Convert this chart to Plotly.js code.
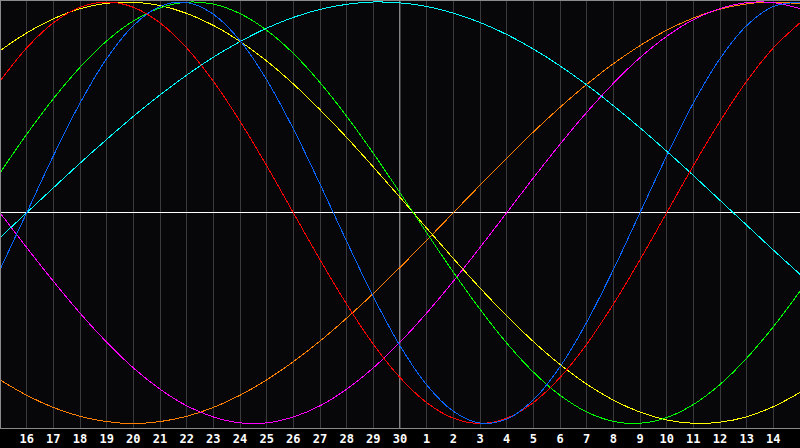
<!DOCTYPE html>
<html>
<head>
<meta charset="utf-8">
<script src="https://cdn.plot.ly/plotly-3.0.1.min.js"></script>
<style>
html,body{margin:0;padding:0;background:#000;}
#chart{width:800px;height:448px;}
#chart .scatterlayer path{shape-rendering:crispEdges;}
</style>
</head>
<body>
<div id="chart"></div>
<script>
// Day labels (15th of one month to 15th of the next)
const days = [15,16,17,18,19,20,21,22,23,24,25,26,27,28,29,30,1,2,3,4,5,6,7,8,9,10,11,12,13,14,15];

// Curve values (-1 .. 1), one per day
const blueVals = [-0.270, 0, 0.270, 0.520, 0.731, 0.888, 0.979, 0.998, 0.942, 0.817, 0.631, 0.398, 0.136, -0.136, -0.398, -0.631, -0.817, -0.942, -0.998, -0.979, -0.888, -0.731, -0.520, -0.270, 0, 0.270, 0.520, 0.731, 0.888, 0.979, 0.998];
const redVals = [0.624, 0.782, 0.901, 0.975, 1, 0.975, 0.901, 0.782, 0.624, 0.434, 0.223, 0, -0.223, -0.434, -0.624, -0.782, -0.901, -0.975, -1, -0.975, -0.901, -0.782, -0.624, -0.434, -0.223, 0, 0.223, 0.434, 0.624, 0.782, 0.901];
const greenVals = [0.189, 0.372, 0.541, 0.690, 0.815, 0.910, 0.972, 0.999, 0.990, 0.945, 0.866, 0.756, 0.618, 0.458, 0.282, 0.095, -0.095, -0.282, -0.458, -0.618, -0.756, -0.866, -0.945, -0.990, -0.999, -0.972, -0.910, -0.815, -0.690, -0.541, -0.372];
const yellowVals = [0.769, 0.853, 0.920, 0.968, 0.994, 0.999, 0.983, 0.946, 0.889, 0.813, 0.720, 0.611, 0.489, 0.357, 0.217, 0.073, -0.073, -0.217, -0.357, -0.489, -0.611, -0.720, -0.813, -0.889, -0.946, -0.983, -0.999, -0.994, -0.968, -0.920, -0.853];
const magentaVals = [0, -0.165, -0.325, -0.476, -0.614, -0.736, -0.837, -0.916, -0.969, -0.997, -0.997, -0.969, -0.916, -0.837, -0.736, -0.614, -0.476, -0.325, -0.165, 0, 0.165, 0.325, 0.476, 0.614, 0.736, 0.837, 0.916, 0.969, 0.997, 0.997, 0.969];
const orangeVals = [-0.793, -0.866, -0.924, -0.966, -0.991, -1, -0.991, -0.966, -0.924, -0.866, -0.793, -0.707, -0.609, -0.5, -0.383, -0.259, -0.131, 0, 0.131, 0.259, 0.383, 0.5, 0.609, 0.707, 0.793, 0.866, 0.924, 0.966, 0.991, 1, 0.991];
const cyanVals = [-0.118, 0, 0.118, 0.235, 0.348, 0.457, 0.559, 0.653, 0.738, 0.812, 0.876, 0.927, 0.965, 0.989, 1.000, 0.996, 0.979, 0.947, 0.903, 0.846, 0.777, 0.697, 0.607, 0.508, 0.403, 0.292, 0.177, 0.059, -0.059, -0.177, -0.292];

const idx = days.map((d, k) => k);
const tickIdx = idx.slice(1, 30);
const tickText = days.slice(1, 30).map(String);

const series = [
  {y: orangeVals, color: '#ff8000'},
  {y: magentaVals, color: '#ff00ff'},
  {y: cyanVals, color: '#00ffff'},
  {y: yellowVals, color: '#ffff00'},
  {y: greenVals, color: '#00ff00'},
  {y: redVals, color: '#ff0000'},
  {y: blueVals, color: '#0a64ff'}
];

const traces = series.map(s => ({
  x: idx, y: s.y, type: 'scatter', mode: 'lines',
  line: {color: s.color, width: 1, shape: 'spline', smoothing: 1},
  hoverinfo: 'skip', showlegend: false
}));

const frame = '#8a8a8a';
const layout = {
  width: 800, height: 448,
  margin: {l: 0, r: 0, t: 0, b: 20, pad: 0},
  paper_bgcolor: '#000000',
  plot_bgcolor: '#07070a',
  showlegend: false,
  xaxis: {
    range: [0, 30], tickvals: tickIdx, ticktext: tickText,
    showgrid: true, gridcolor: '#3a3a3a', gridwidth: 1,
    zeroline: false, showline: false, ticks: '',
    ticklabelstandoff: 2,
    tickfont: {family: 'DejaVu Sans Mono', size: 12, color: '#ffffff', weight: 'bold'},
    fixedrange: true
  },
  yaxis: {
    range: [-1.0214, 1.0095], showgrid: false, showticklabels: false,
    zeroline: true, zerolinecolor: '#ffffff', zerolinewidth: 1,
    showline: false, ticks: '', fixedrange: true
  },
  shapes: [
    {type: 'line', xref: 'x', yref: 'paper', x0: 15, x1: 15, y0: 0, y1: 1, line: {color: '#ffffff', width: 1}, layer: 'below'},
    {type: 'line', xref: 'paper', yref: 'paper', x0: 0.000625, x1: 0.000625, y0: -0.0012, y1: 1, line: {color: frame, width: 1}},
    {type: 'line', xref: 'paper', yref: 'paper', x0: 0, x1: 1, y0: 0.99883, y1: 0.99883, line: {color: frame, width: 1}},
    {type: 'line', xref: 'paper', yref: 'paper', x0: 0, x1: 1, y0: -0.00117, y1: -0.00117, line: {color: frame, width: 1}}
  ]
};

Plotly.newPlot('chart', traces, layout, {staticPlot: true, displayModeBar: false});
</script>
</body>
</html>
